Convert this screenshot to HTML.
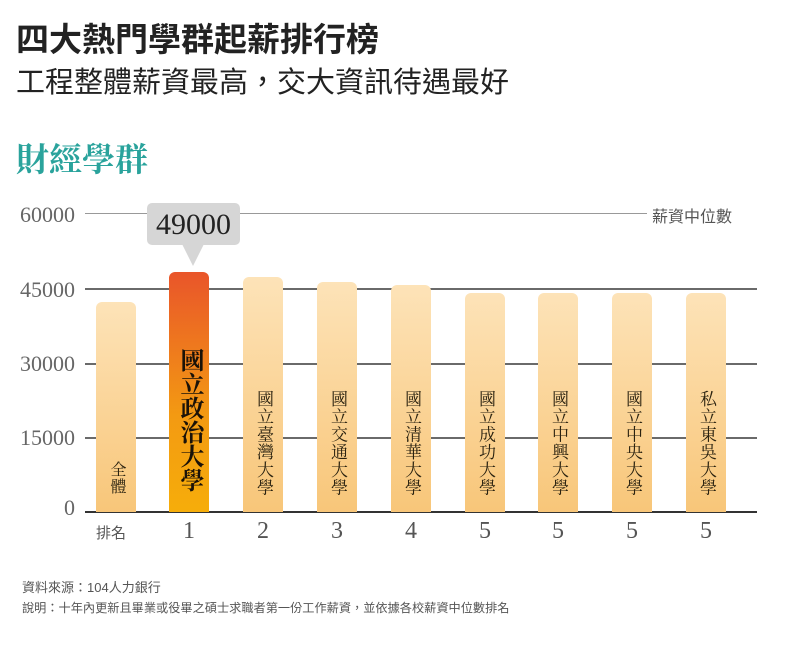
<!DOCTYPE html>
<html><head><meta charset="utf-8"><style>
body{margin:0;width:792px;height:645px;background:#fff;position:relative;overflow:hidden;font-family:"Liberation Sans","Noto Sans CJK TC",sans-serif}
.a{position:absolute}
.g{position:absolute;left:85px;width:672px;height:1.5px;background:#6a6a6a}
.yl{position:absolute;right:717px;font-family:"Liberation Serif",serif;font-size:22px;color:#666;line-height:22px}
.bar{position:absolute;width:40px;border-radius:6px 6px 0 0;background:linear-gradient(#fde3b8,#f8c679)}
.vt{position:absolute;writing-mode:vertical-rl;font-family:"Liberation Serif","Noto Serif CJK SC",serif;color:#2a2210;font-size:17px;letter-spacing:0.7px;line-height:40px;width:40px;text-align:left}
.rk{position:absolute;top:518px;width:40px;text-align:center;font-family:"Liberation Serif",serif;font-size:24px;color:#555}
</style></head><body>
<div class="a" style="left:16px;top:13px;font-size:33px;color:#222;font-weight:bold">四大熱門學群起薪排行榜</div>
<div class="a" style="left:16px;top:59px;font-size:29px;color:#222">工程整體薪資最高，交大資訊待遇最好</div>
<div class="a" style="left:16px;top:134px;font-size:33px;color:#2aa39c;font-family:'Liberation Serif','Noto Serif CJK SC',serif;font-weight:bold">財經學群</div>

<div class="a" style="left:85px;top:213px;width:562px;height:1px;background:#999"></div>
<div class="a" style="left:652px;top:203px;font-size:16px;color:#555">薪資中位數</div>
<div class="g" style="top:288px"></div>
<div class="g" style="top:363px"></div>
<div class="g" style="top:437px"></div>
<div class="g" style="top:511px;height:2px;background:#333"></div>
<div class="yl" style="top:204px">60000</div>
<div class="yl" style="top:279px">45000</div>
<div class="yl" style="top:353px">30000</div>
<div class="yl" style="top:427px">15000</div>
<div class="yl" style="top:497px">0</div>

<div class="bar" style="left:96px;top:302px;height:210px"></div>
<div class="bar" style="left:169px;top:272px;height:240px;background:linear-gradient(#e9552a,#f39a12 60%,#f6ad0a)"></div>
<div class="bar" style="left:243px;top:277px;height:235px"></div>
<div class="bar" style="left:317px;top:282px;height:230px"></div>
<div class="bar" style="left:391px;top:285px;height:227px"></div>
<div class="bar" style="left:465px;top:293px;height:219px"></div>
<div class="bar" style="left:538px;top:293px;height:219px"></div>
<div class="bar" style="left:612px;top:293px;height:219px"></div>
<div class="bar" style="left:686px;top:293px;height:219px"></div>

<div class="vt" style="left:96px;top:461px;font-size:16px;letter-spacing:1px">全體</div>
<div class="vt" style="left:169px;top:348px;font-size:24px;letter-spacing:0px;font-weight:bold;color:#1a1208">國立政治大學</div>
<div class="vt" style="left:243px;top:390px">國立臺灣大學</div>
<div class="vt" style="left:317px;top:390px">國立交通大學</div>
<div class="vt" style="left:391px;top:390px">國立清華大學</div>
<div class="vt" style="left:465px;top:390px">國立成功大學</div>
<div class="vt" style="left:538px;top:390px">國立中興大學</div>
<div class="vt" style="left:612px;top:390px">國立中央大學</div>
<div class="vt" style="left:686px;top:390px">私立東吳大學</div>

<div class="a" style="left:147px;top:203px;width:93px;height:42px;background:#d6d6d6;border-radius:5px"></div>
<div class="a" style="left:182px;top:244px;width:0;height:0;border-left:11px solid transparent;border-right:11px solid transparent;border-top:22px solid #d6d6d6"></div>
<div class="a" style="left:147px;top:208px;width:93px;text-align:center;font-family:'Liberation Serif',serif;font-size:30px;color:#222">49000</div>

<div class="a" style="left:96px;top:522px;font-size:15px;color:#555">排名</div>
<div class="rk" style="left:169px">1</div>
<div class="rk" style="left:243px">2</div>
<div class="rk" style="left:317px">3</div>
<div class="rk" style="left:391px">4</div>
<div class="rk" style="left:465px">5</div>
<div class="rk" style="left:538px">5</div>
<div class="rk" style="left:612px">5</div>
<div class="rk" style="left:686px">5</div>

<div class="a" style="left:22px;top:577px;font-size:13px;color:#555">資料來源：104人力銀行</div>
<div class="a" style="left:22px;top:598px;font-size:12.2px;color:#555">說明：十年內更新且畢業或役畢之碩士求職者第一份工作薪資，並依據各校薪資中位數排名</div>
</body></html>
